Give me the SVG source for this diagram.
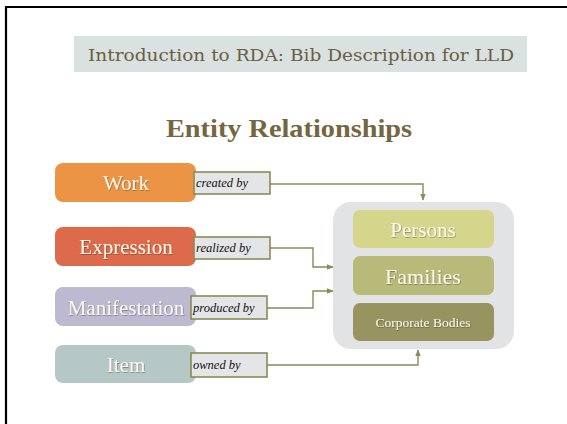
<svg xmlns="http://www.w3.org/2000/svg" width="567" height="424" viewBox="0 0 567 424">
<defs>
<style>
.node text{font-family:"Liberation Serif",serif;fill:#fbf8ee;text-anchor:middle;filter:url(#sh)}
.lbl rect{fill:#e4e5e6;stroke:#8a8b55;stroke-width:1.6}
.lbl text{font-family:"Liberation Serif",serif;font-style:italic;font-size:12.5px;fill:#111}
#connectors path{fill:none;stroke:#8a8b55;stroke-width:1.4;marker-end:url(#arr)}
</style>
<marker id="arr" viewBox="0 0 10 10" refX="9" refY="5" markerWidth="5" markerHeight="5" orient="auto"><path d="M0,1 L10,5 L0,9 z" fill="#8a8b55"/></marker>
<filter id="sh" x="-10%" y="-20%" width="120%" height="150%"><feDropShadow dx="0.6" dy="0.8" stdDeviation="0.5" flood-color="#000" flood-opacity="0.35"/></filter>
</defs>
<rect width="567" height="424" fill="#fff"/>
<path d="M6,424 V7 H567" fill="none" stroke="#000" stroke-width="2.2"/>
<g id="header">
<rect x="74" y="36" width="453" height="36" fill="#d9e1e1"/>
<text x="301" y="61" text-anchor="middle" font-family="DejaVu Serif,serif" font-size="17" fill="#6c5e42" textLength="426" lengthAdjust="spacingAndGlyphs">Introduction to RDA: Bib Description for LLD</text>
</g>
<text x="289" y="137" text-anchor="middle" font-family="Liberation Serif,serif" font-weight="bold" font-size="25" fill="#75663f" textLength="246" lengthAdjust="spacingAndGlyphs">Entity Relationships</text>
<g id="connectors">
<path d="M270,184 H423 V200"/>
<path d="M270,248 H313 V267 H333"/>
<path d="M267,308 H313 V291 H333"/>
<path d="M267,365 H418 V350"/>
</g>
<g id="agents">
<rect x="333" y="202" width="181" height="147" rx="18" fill="#e2e3e5"/>
</g>
<g id="persons" class="node"><rect x="353" y="210" width="141" height="38" rx="7" fill="#d6d58c"/><text x="423" y="237" font-size="21">Persons</text></g>
<g id="families" class="node"><rect x="353" y="256" width="141" height="39" rx="7" fill="#b9b979"/><text x="423" y="284" font-size="22">Families</text></g>
<g id="corporate" class="node"><rect x="353" y="303" width="141" height="38" rx="7" fill="#979460"/><text x="423" y="327" font-size="13.5">Corporate Bodies</text></g>
<g id="work" class="node"><rect x="55" y="163" width="141" height="39" rx="8" fill="#ec9445"/><text x="126" y="190" font-size="21">Work</text></g>
<g id="expression" class="node"><rect x="55" y="227" width="141" height="39" rx="8" fill="#dd6b4b"/><text x="126" y="254" font-size="21">Expression</text></g>
<g id="manifestation" class="node"><rect x="55" y="287" width="141" height="39" rx="8" fill="#bdb9d1"/><text x="126" y="315" font-size="21">Manifestation</text></g>
<g id="item" class="node"><rect x="55" y="345" width="141" height="38" rx="8" fill="#b5c8c6"/><text x="126" y="372" font-size="21">Item</text></g>
<g id="lbl-created" class="lbl"><rect x="194" y="172" width="76" height="22"/><text x="196" y="187">created by</text></g>
<g id="lbl-realized" class="lbl"><rect x="194" y="237" width="76" height="22"/><text x="196" y="252">realized by</text></g>
<g id="lbl-produced" class="lbl"><rect x="191" y="296" width="76" height="23"/><text x="193" y="312">produced by</text></g>
<g id="lbl-owned" class="lbl"><rect x="191" y="353" width="76" height="24"/><text x="193" y="369">owned by</text></g>
</svg>
